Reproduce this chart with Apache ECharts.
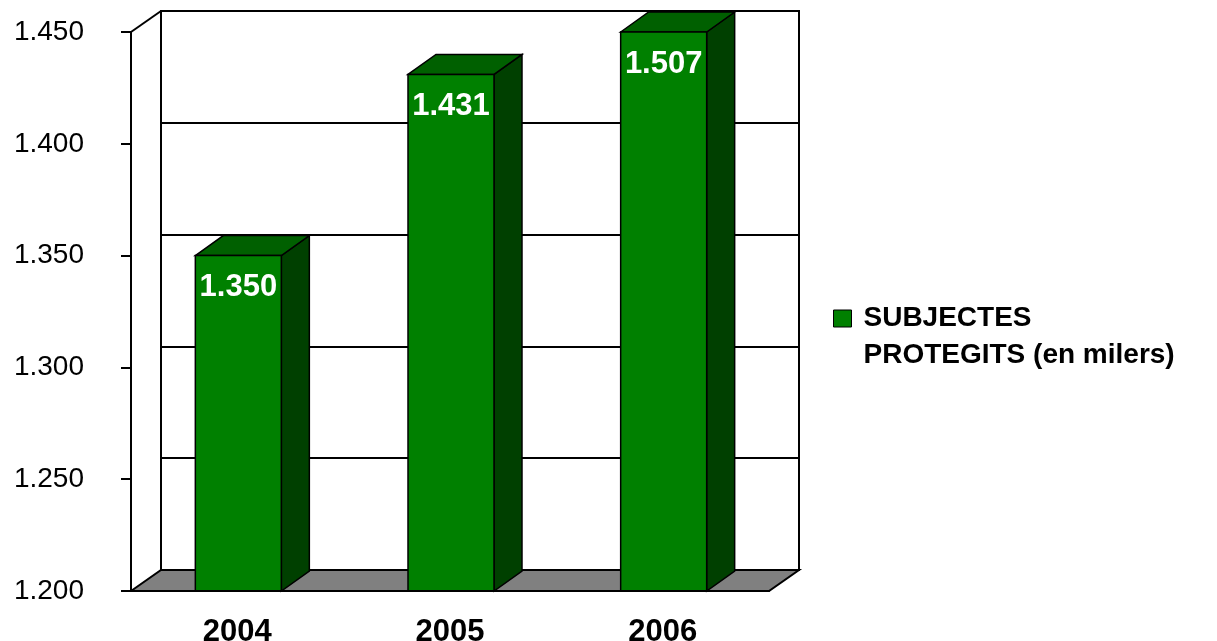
<!DOCTYPE html>
<html><head><meta charset="utf-8">
<script src="https://cdn.jsdelivr.net/npm/echarts@6/dist/echarts.min.js"></script>
<style>html,body{margin:0;padding:0;background:#fff}#c{width:1217px;height:641px}</style>
</head><body><div id="c"></div>
<script>
const categories = ['2004', '2005', '2006'];
const values = [1350, 1431, 1507];
const seriesName = 'SUBJECTES\nPROTEGITS (en milers)';
const yMin = 1200, yMax = 1450, yStep = 50;

const FONT = "'Liberation Sans', Arial, sans-serif";
const WALL_DX = 30, WALL_DY = -21;
const BAR_DX = 28, BAR_DY = -20;
const BAR_W = 86;
const fmt = v => (v / 1000).toFixed(3);

const chart = echarts.init(document.getElementById('c'), null, {renderer: 'canvas'});
const front = {left: 131, top: 32, width: 638, height: 559};

const option = {
  backgroundColor: '#fff',
  animation: false,
  grid: [
    {left: front.left, top: front.top, width: front.width, height: front.height, show: false,
     containLabel: false, outerBoundsMode: 'none'},
    {left: front.left + WALL_DX, top: front.top + WALL_DY, width: front.width, height: front.height,
     containLabel: false, outerBoundsMode: 'none',
     show: true, borderColor: '#000', borderWidth: 2, backgroundColor: 'transparent'}
  ],
  xAxis: [
    {type: 'category', gridIndex: 0, data: categories, z: 5,
     axisLine: {lineStyle: {color: '#000', width: 2}},
     axisTick: {length: 10, lineStyle: {color: '#000', width: 2}},
     axisLabel: {margin: 26, color: '#000', fontFamily: FONT, fontSize: 31, fontWeight: 'bold'}},
    {type: 'category', gridIndex: 1, data: categories, show: false}
  ],
  yAxis: [
    {type: 'value', gridIndex: 0, min: yMin, max: yMax, interval: yStep, z: 5,
     axisLine: {show: true, lineStyle: {color: '#000', width: 2}},
     axisTick: {show: true, length: 10, lineStyle: {color: '#000', width: 2}},
     splitLine: {show: false},
     axisLabel: {formatter: fmt, margin: 47, color: '#000', fontFamily: FONT, fontSize: 28}},
    {type: 'value', gridIndex: 1, min: yMin, max: yMax, interval: yStep,
     axisLine: {show: false}, axisTick: {show: false}, axisLabel: {show: false},
     splitLine: {show: true, lineStyle: {color: '#000', width: 2}}}
  ],
  legend: {
    left: 828, top: 258, orient: 'vertical',
    data: [{name: seriesName, icon: 'rect', itemStyle: {color: '#008000', borderColor: '#000', borderWidth: 1}}],
    formatter: name => '\n' + name,
    itemWidth: 18, itemHeight: 17,
    textStyle: {fontFamily: FONT, fontSize: 28, fontWeight: 'bold', color: '#000', lineHeight: 37, padding: [0, 0, 0, 7]}
  },
  series: [
    {
      type: 'custom', name: 'floor', xAxisIndex: 0, yAxisIndex: 0, z: 1, silent: true,
      data: [[0, yMin]], encode: {x: 0, y: 1},
      renderItem: (params, api) => {
        const cs = params.coordSys;
        const x0 = cs.x, x1 = cs.x + cs.width, yb = cs.y + cs.height, yt = cs.y;
        return {type: 'group', children: [
          {type: 'polygon', shape: {points: [[x0, yb], [x0 + WALL_DX, yb + WALL_DY], [x1 + WALL_DX, yb + WALL_DY], [x1, yb]]},
           style: {fill: '#808080', stroke: '#000', lineWidth: 2}},
          {type: 'line', shape: {x1: x0, y1: yt, x2: x0 + WALL_DX, y2: yt + WALL_DY},
           style: {stroke: '#000', lineWidth: 2}}
        ]};
      }
    },
    {
      type: 'custom', name: seriesName, xAxisIndex: 0, yAxisIndex: 0, z: 3,
      itemStyle: {color: '#008000'},
      data: values.map((v, i) => [i, v]), encode: {x: 0, y: 1},
      renderItem: (params, api) => {
        const idx = api.value(0), v = api.value(1);
        const top = api.coord([idx, Math.min(v, yMax)]);
        const base = api.coord([idx, yMin]);
        const cx = top[0] + 1;
        const xl = cx - BAR_W / 2, xr = cx + BAR_W / 2;
        const yt = top[1], yb = base[1];
        return {type: 'group', children: [
          {type: 'polygon', shape: {points: [[xr, yt], [xr + BAR_DX, yt + BAR_DY], [xr + BAR_DX, yb + BAR_DY], [xr, yb]]},
           style: {fill: '#004000', stroke: '#000', lineWidth: 1.5}},
          {type: 'polygon', shape: {points: [[xl, yt], [xl + BAR_DX, yt + BAR_DY], [xr + BAR_DX, yt + BAR_DY], [xr, yt]]},
           style: {fill: '#006000', stroke: '#000', lineWidth: 1.5}},
          {type: 'rect', shape: {x: xl, y: yt, width: BAR_W, height: yb - yt},
           style: {fill: '#008000', stroke: '#000', lineWidth: 1.5}},
          {type: 'text', style: {text: fmt(v), x: cx, y: yt + 32, align: 'center', verticalAlign: 'middle',
           fill: '#fff', fontFamily: FONT, fontSize: 31, fontWeight: 'bold'}}
        ]};
      }
    }
  ]
};
chart.setOption(option);
</script>
</body></html>
